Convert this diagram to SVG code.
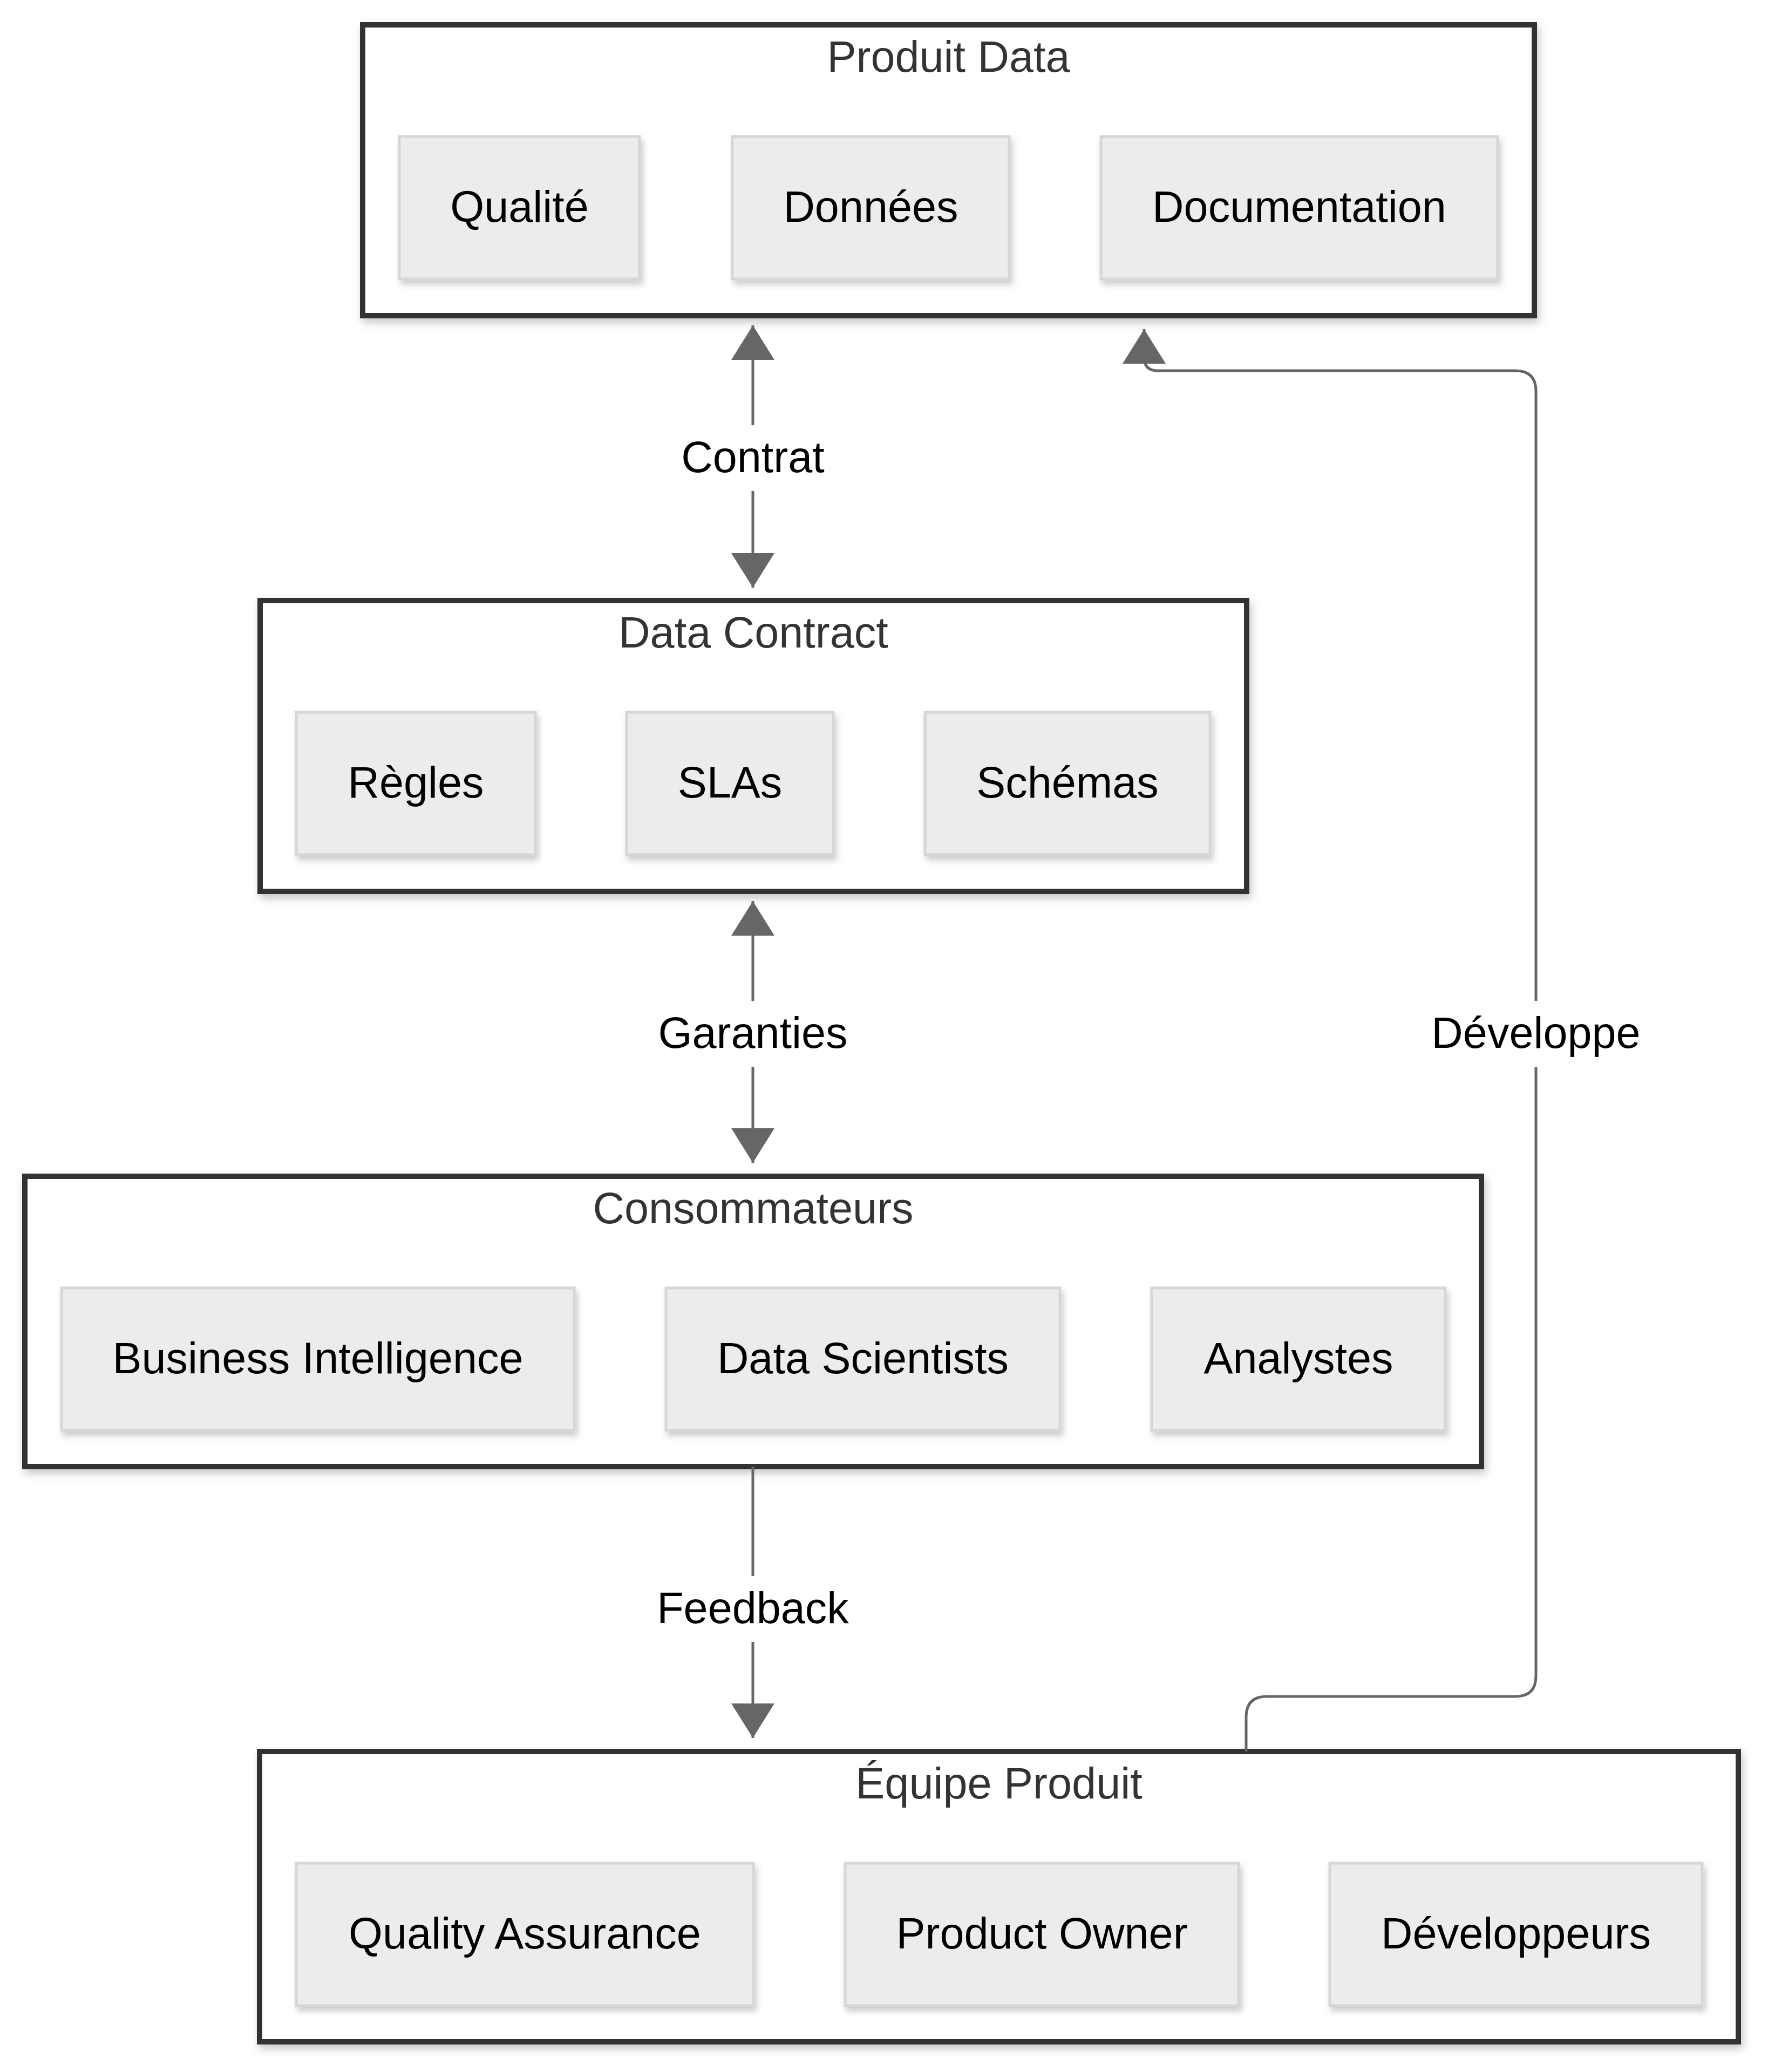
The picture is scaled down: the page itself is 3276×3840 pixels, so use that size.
<svg xmlns="http://www.w3.org/2000/svg" width="3276" height="3840" viewBox="0 0 3276 3840">
<style>
  .cluster rect { fill: #ffffff; stroke: #333333; stroke-width: 10; filter: url(#shadowC); }
  .cluster text { font-family: "Liberation Sans", Arial, Helvetica, sans-serif; font-size: 81px; fill: #333333; text-anchor: middle; }
  .node rect { fill: #ececec; stroke: #d6d6d6; stroke-width: 5; filter: url(#shadowN); }
  .node text { font-family: "Liberation Sans", Arial, Helvetica, sans-serif; font-size: 81px; fill: #000000; text-anchor: middle; }
  .edge { fill: none; stroke: #666666; stroke-width: 5; }
  .elabel rect { fill: #ffffff; stroke: none; }
  .elabel text { font-family: "Liberation Sans", Arial, Helvetica, sans-serif; font-size: 81px; fill: #000000; text-anchor: middle; }
</style>
<defs>
  <filter id="shadowC" x="-5%" y="-10%" width="110%" height="125%">
    <feDropShadow dx="4" dy="8" stdDeviation="8" flood-color="#000000" flood-opacity="0.22"/>
  </filter>
  <filter id="shadowN" x="-10%" y="-10%" width="120%" height="130%">
    <feDropShadow dx="4" dy="8" stdDeviation="6" flood-color="#000000" flood-opacity="0.2"/>
  </filter>
  <marker id="arrow" viewBox="0 0 64 80" refX="64" refY="40" markerWidth="64" markerHeight="80" markerUnits="userSpaceOnUse" orient="auto-start-reverse">
    <path d="M0,0 L64,40 L0,80 z" fill="#666666"/>
  </marker>
</defs>
<rect x="0" y="0" width="3276" height="3840" fill="#ffffff"/>

<!-- Clusters -->
<g id="cluster-produit-data" class="cluster">
  <rect x="672" y="46" width="2171" height="539"/>
  <text x="1757.5" y="133">Produit Data</text>
</g>
<g id="cluster-data-contract" class="cluster">
  <rect x="482" y="1113" width="1828" height="539"/>
  <text x="1396" y="1200">Data Contract</text>
</g>
<g id="cluster-consommateurs" class="cluster">
  <rect x="46" y="2180" width="2699" height="538"/>
  <text x="1395.5" y="2267">Consommateurs</text>
</g>
<g id="cluster-equipe-produit" class="cluster">
  <rect x="481" y="3246" width="2740" height="538"/>
  <text x="1851" y="3333">Équipe Produit</text>
</g>

<!-- Nodes: Produit Data -->
<g id="node-qualite" class="node">
  <rect x="740" y="253" width="445" height="264"/>
  <text x="962.5" y="411">Qualité</text>
</g>
<g id="node-donnees" class="node">
  <rect x="1357" y="253" width="513" height="264"/>
  <text x="1613.5" y="411">Données</text>
</g>
<g id="node-documentation" class="node">
  <rect x="2040" y="253" width="735" height="264"/>
  <text x="2407.5" y="411">Documentation</text>
</g>

<!-- Nodes: Data Contract -->
<g id="node-regles" class="node">
  <rect x="549" y="1320" width="443" height="264"/>
  <text x="770.5" y="1478">Règles</text>
</g>
<g id="node-slas" class="node">
  <rect x="1161" y="1320" width="383" height="264"/>
  <text x="1352.5" y="1478">SLAs</text>
</g>
<g id="node-schemas" class="node">
  <rect x="1714" y="1320" width="528" height="264"/>
  <text x="1978" y="1478">Schémas</text>
</g>

<!-- Nodes: Consommateurs -->
<g id="node-bi" class="node">
  <rect x="114" y="2387" width="950" height="264"/>
  <text x="589" y="2545">Business Intelligence</text>
</g>
<g id="node-ds" class="node">
  <rect x="1234" y="2387" width="730" height="264"/>
  <text x="1599" y="2545">Data Scientists</text>
</g>
<g id="node-analystes" class="node">
  <rect x="2134" y="2387" width="544" height="264"/>
  <text x="2406" y="2545">Analystes</text>
</g>

<!-- Nodes: Équipe Produit -->
<g id="node-qa" class="node">
  <rect x="549" y="3453" width="847" height="264"/>
  <text x="972.5" y="3611">Quality Assurance</text>
</g>
<g id="node-po" class="node">
  <rect x="1566" y="3453" width="729" height="264"/>
  <text x="1930.5" y="3611">Product Owner</text>
</g>
<g id="node-dev" class="node">
  <rect x="2464" y="3453" width="690" height="264"/>
  <text x="2809" y="3611">Développeurs</text>
</g>

<!-- Connectors -->
<g id="connectors">
  <path class="edge" d="M1395,603 L1395,1089" marker-start="url(#arrow)" marker-end="url(#arrow)"/>
  <path class="edge" d="M1395,1670 L1395,2155" marker-start="url(#arrow)" marker-end="url(#arrow)"/>
  <path class="edge" d="M1395,2718 L1395,3221" marker-end="url(#arrow)"/>
  <path class="edge" d="M2309,3246 L2309,3182 Q2309,3144 2347,3144 L2808,3144 Q2846,3144 2846,3106 L2846,725 Q2846,687 2808,687 L2145,687 Q2120,687 2120,662 L2120,610" marker-end="url(#arrow)"/>
  <g class="elabel">
    <rect x="1262" y="788" width="266" height="122"/>
    <text x="1395" y="875">Contrat</text>
  </g>
  <g class="elabel">
    <rect x="1218" y="1855" width="354" height="122"/>
    <text x="1395" y="1942">Garanties</text>
  </g>
  <g class="elabel">
    <rect x="1216" y="2921" width="358" height="122"/>
    <text x="1395" y="3008">Feedback</text>
  </g>
  <g class="elabel">
    <rect x="2651" y="1855" width="390" height="122"/>
    <text x="2846" y="1942">Développe</text>
  </g>
</g>
</svg>
